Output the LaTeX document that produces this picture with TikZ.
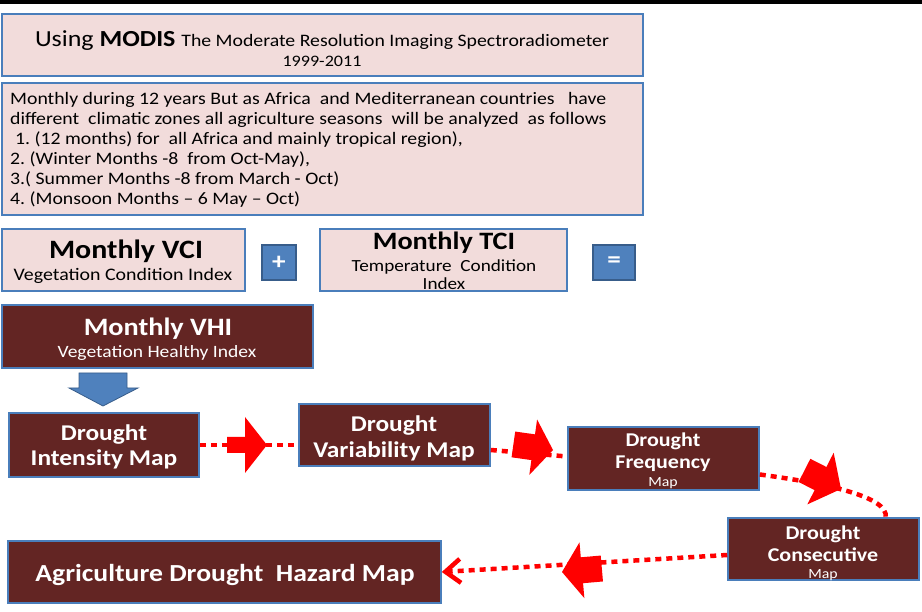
\documentclass[tikz,border=0pt]{standalone}
\usepackage{fontspec}
\setmainfont{Carlito}[FakeStretch=1.13]
\usetikzlibrary{arrows.meta,calc}
\definecolor{pinkfill}{HTML}{F2DCDB}
\definecolor{boxline}{HTML}{4A7EBB}
\definecolor{darkred}{HTML}{632523}
\definecolor{bluefill}{HTML}{4F81BD}
\definecolor{blueline}{HTML}{385D8A}
\definecolor{arrred}{HTML}{FF0000}
\newcommand\fs[2]{\fontsize{#1}{#2}\selectfont}
\frenchspacing
% tip x, tip y, angle, head length, head half width, shaft length, shaft half width
\newcommand\blockarr[7]{%
  \begin{scope}[shift={(#1,#2)},rotate=#3]
    \fill[arrred] (0,0) -- (-#4,#5) -- (-#4,#7) -- ({-#4-#6},#7) -- ({-#4-#6},-#7) -- (-#4,-#7) -- (-#4,-#5) -- cycle;
  \end{scope}}
\begin{document}
\begin{tikzpicture}[x=1pt,y=-1pt,
  pinkbox/.style={draw=boxline, line width=1.6pt, fill=pinkfill, rectangle, inner sep=0},
  darkbox/.style={draw=boxline, line width=1.6pt, fill=darkred, rectangle, inner sep=0},
  bluebox/.style={draw=blueline, line width=1.2pt, fill=bluefill, rectangle, inner sep=0},
  txt/.style={inner sep=0, anchor=base},
  wtxt/.style={txt, text=white, font=\bfseries},
  reddot/.style={draw=arrred, line width=4.5pt, dash pattern=on 6pt off 5pt},
]
\useasboundingbox (0,0) rectangle (922,612);
\fill[black] (0,0) rectangle (922,4);

% boxes
\node[pinkbox, minimum width=641, minimum height=62] (title) at (322.5,45) {};
\node[pinkbox, minimum width=641, minimum height=132] (info) at (322.5,149) {};
\node[pinkbox, minimum width=243, minimum height=62] (vci) at (123.5,260) {};
\node[bluebox, minimum width=34, minimum height=35] (plus) at (279,262.5) {};
\node[pinkbox, minimum width=247, minimum height=62] (tci) at (443.5,260) {};
\node[bluebox, minimum width=42, minimum height=35] (eq) at (614,262.5) {};
\node[darkbox, minimum width=311, minimum height=63] (vhi) at (157.5,336.5) {};
\node[darkbox, minimum width=190, minimum height=64] (inten) at (104,445) {};
\node[darkbox, minimum width=191, minimum height=62] (var) at (394.5,435) {};
\node[darkbox, minimum width=191, minimum height=63] (freq) at (663.5,458.5) {};
\node[darkbox, minimum width=191, minimum height=62] (cons) at (823.5,549) {};
\node[darkbox, minimum width=433, minimum height=62] (agri) at (224.5,572) {};

% texts
\node[txt] (tA) at (322,47) {\fs{23}{26}Using \textbf{MODIS} \fs{17.5}{20}The Moderate Resolution Imaging Spectroradiometer};
\node[txt] (tB) at (322,67) {\fs{16}{20}1999-2011};
\begin{scope}[every node/.style={txt, anchor=base west, font=\fs{17.5}{20}}]
\node (l1) at (10,105) {Monthly during 12 years But as Africa\ \ and Mediterranean countries\ \ \ have};
\node (l2) at (10,125) {different\ \ climatic zones all agriculture seasons\ \ will be analyzed\ \ as follows};
\node (l3) at (15,145) {1. (12 months) for\ \ all Africa and mainly tropical region),};
\node (l4) at (10,165) {2. (Winter Months -8\ \ from Oct-May),};
\node (l5) at (10,185) {3.( Summer Months -8 from March - Oct)};
\node (l6) at (10,205) {4. (Monsoon Months – 6 May – Oct)};
\end{scope}
\node[txt] (vciA) at (126,259) {\fs{26.5}{30}\bfseries Monthly VCI};
\node[txt] (vciB) at (123,281) {\fs{17.6}{20}Vegetation Condition Index};
\node[txt] (tciA) at (444,250) {\fs{25}{30}\bfseries Monthly TCI};
\node[txt] (tciB) at (444,272) {\fs{17}{20}Temperature\ \ Condition};
\node[txt] (tciC) at (444,290) {\fs{17}{20}Index};
\node[wtxt, anchor=center] at (plus) (plusT) {\fs{24}{24}+};
\node[wtxt, anchor=center] at (eq) (eqT) {\fs{24}{24}=};
\node[wtxt] (vhiA) at (158,336) {\fs{25}{30}Monthly VHI};
\node[txt, text=white] (vhiB) at (157,358) {\fs{17.3}{20}Vegetation Healthy Index};
\node[wtxt] (intA) at (104,441) {\fs{22.5}{26}Drought};
\node[wtxt] (intB) at (104,466) {\fs{22.5}{26}Intensity Map};
\node[wtxt] (varA) at (394,432) {\fs{22.5}{26}Drought};
\node[wtxt] (varB) at (394,457) {\fs{22.5}{26}Variability Map};
\node[wtxt] (frA) at (663,447) {\fs{19.5}{24}Drought};
\node[wtxt] (frB) at (663,469) {\fs{19.5}{24}Frequency};
\node[txt, text=white] (frC) at (663,486) {\fs{14}{16}Map};
\node[wtxt] (coA) at (823,539) {\fs{19.5}{24}Drought};
\node[wtxt] (coB) at (823,561) {\fs{19.5}{24}Consecutive};
\node[txt, text=white] (coC) at (823,578) {\fs{14}{16}Map};
\node[wtxt] (agT) at (225,581) {\fs{24.5}{28}Agriculture Drought\ \ Hazard Map};

% blue down arrow
\filldraw[fill=bluefill, draw=blueline, line width=0.8pt] (79,373) -- (127,373) -- (127,388) -- (138,388) -- (103,406) -- (69,388) -- (79,388) -- cycle;

% connectors
\draw[reddot] (inten.east) -- (inten.east -| var.west);
\draw[reddot] ($(var.east)+(0,15)$) -- ($(freq.west)+(0,-2)$);
\draw[reddot] ($(freq.east)+(0,16)$) .. controls (830,484) and (888,497) .. ($(cons.north east)+(-34,0)$);
\draw[reddot, -{Straight Barb[length=15pt,width=24pt]}] ($(cons.west)+(0,6)$) -- (agri.east);

% block arrows
\blockarr{267}{445}{0}{22}{28}{18}{8}
\blockarr{553}{450}{-8}{20}{28}{20}{13}
\blockarr{841}{489}{-27}{23}{29}{18}{13}
\blockarr{562}{572}{185}{20}{28}{20}{13}
\end{tikzpicture}
\end{document}
